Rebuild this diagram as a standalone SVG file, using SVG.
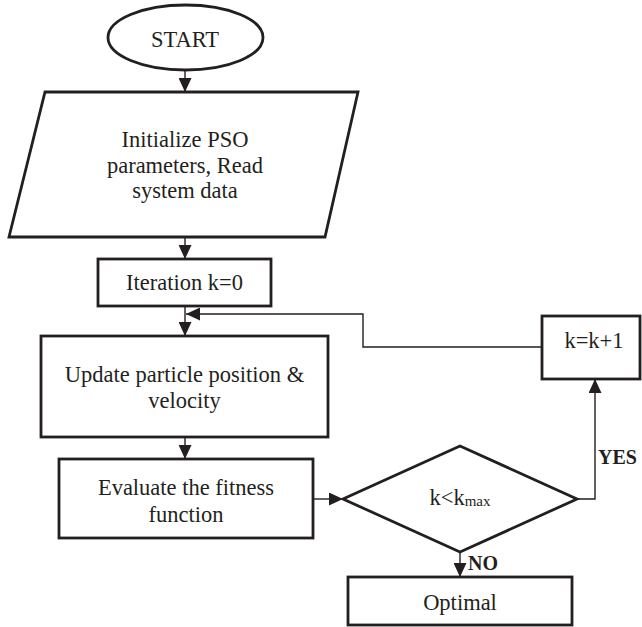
<svg xmlns="http://www.w3.org/2000/svg" width="642" height="627" viewBox="0 0 642 627">
  <style>
    .shape { fill: #ffffff; stroke: #231f20; stroke-width: 2.8; stroke-linejoin: miter; }
    .link { fill: none; stroke: #231f20; stroke-width: 1.4; }
    .label { font-family: 'Liberation Serif', 'Times New Roman', serif; font-size: 22.5px; fill: #231f20; text-anchor: middle; }
    .tag { font-family: 'Liberation Serif', 'Times New Roman', serif; font-size: 20px; font-weight: bold; fill: #231f20; }
  </style>
  <defs>
    <marker id="arrow" viewBox="0 0 14 13" refX="14" refY="6.5" markerWidth="14" markerHeight="13" markerUnits="userSpaceOnUse" orient="auto">
      <path d="M0,0 L14,6.5 L0,13 z" fill="#231f20"/>
    </marker>
  </defs>
  <rect width="642" height="627" fill="#ffffff"/>

  <!-- connectors -->
  <g id="connectors">
    <path class="link" d="M185,70 V92" marker-end="url(#arrow)"/>
    <path class="link" d="M185,237 V259" marker-end="url(#arrow)"/>
    <path class="link" d="M185,306 V336" marker-end="url(#arrow)"/>
    <path class="link" d="M542,347 H363 V314 H186" marker-end="url(#arrow)"/>
    <path class="link" d="M185,437 V459" marker-end="url(#arrow)"/>
    <path class="link" d="M313,499 H343" marker-end="url(#arrow)"/>
    <path class="link" d="M577,499 H595 V379" marker-end="url(#arrow)"/>
    <path class="link" d="M460,552 V577" marker-end="url(#arrow)"/>
    <text class="tag" x="598" y="464">YES</text>
    <text class="tag" x="468" y="570">NO</text>
  </g>

  <!-- nodes -->
  <g id="start">
    <ellipse class="shape" cx="185.5" cy="37.5" rx="77.5" ry="32.5"/>
    <text class="label" x="185" y="47">START</text>
  </g>

  <g id="init">
    <polygon class="shape" points="45,92 358,92 325,237 9,237"/>
    <text class="label" x="185" y="147">Initialize PSO</text>
    <text class="label" x="185" y="173">parameters, Read</text>
    <text class="label" x="185" y="198">system data</text>
  </g>

  <g id="iteration">
    <rect class="shape" x="98" y="259" width="173" height="47"/>
    <text class="label" x="184.5" y="290">Iteration k=0</text>
  </g>

  <g id="update">
    <rect class="shape" x="41" y="336" width="287" height="101"/>
    <text class="label" x="184.5" y="382">Update particle position &amp;</text>
    <text class="label" x="184.5" y="408">velocity</text>
  </g>

  <g id="evaluate">
    <rect class="shape" x="59" y="459" width="254" height="79"/>
    <text class="label" x="186" y="495">Evaluate the fitness</text>
    <text class="label" x="186" y="522">function</text>
  </g>

  <g id="decision">
    <polygon class="shape" points="460,446 577,499 460,552 343,499"/>
    <text class="label" x="460" y="505">k&lt;k<tspan font-size="15" dy="1">max</tspan></text>
  </g>

  <g id="increment">
    <rect class="shape" x="542" y="316" width="98" height="63"/>
    <text class="label" x="594" y="348">k=k+1</text>
  </g>

  <g id="optimal">
    <rect class="shape" x="348" y="577" width="224" height="48"/>
    <text class="label" x="460" y="610">Optimal</text>
  </g>
</svg>
